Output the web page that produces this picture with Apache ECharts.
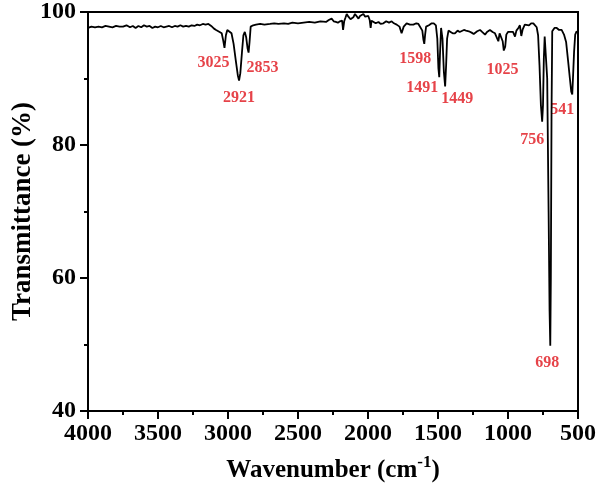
<!DOCTYPE html>
<html>
<head>
<meta charset="UTF-8">
<title>FTIR spectrum</title>
<script src="https://cdn.jsdelivr.net/npm/echarts@6/dist/echarts.min.js"></script>
<style>
  html, body { margin: 0; padding: 0; background: #fff; }
  #chart { width: 605px; height: 498px; }
</style>
</head>
<body>
<div id="chart"></div>
<script>
// spectrum (wavenumber in cm-1, transmittance in %)
const wavenumber = [
  4000, 3975, 3950, 3925, 3900, 3875, 3850, 3825, 3800, 3775, 3750, 3725, 3700, 3680, 3660, 3640,
  3620, 3600, 3580, 3560, 3540, 3520, 3500, 3480, 3460, 3440, 3420, 3400, 3380, 3360, 3340, 3320,
  3300, 3280, 3260, 3240, 3220, 3200, 3180, 3160, 3140, 3120, 3100, 3085, 3075, 3060, 3045, 3035,
  3025, 3015, 3005, 2995, 2975, 2960, 2945, 2930, 2921, 2912, 2900, 2890, 2880, 2870, 2860, 2853,
  2846, 2838, 2820, 2800, 2770, 2740, 2700, 2670, 2640, 2600, 2570, 2540, 2500, 2460, 2420, 2380,
  2340, 2300, 2280, 2260, 2245, 2230, 2215, 2200, 2185, 2178, 2170, 2160, 2152, 2140, 2125, 2116,
  2105, 2093, 2080, 2068, 2057, 2045, 2033, 2020, 2010, 1998, 1988, 1981, 1975, 1962, 1945, 1925,
  1910, 1890, 1870, 1850, 1831, 1815, 1795, 1775, 1760, 1745, 1724, 1700, 1676, 1655, 1640, 1630,
  1612, 1604, 1598, 1592, 1585, 1565, 1545, 1530, 1515, 1505, 1497, 1491, 1486, 1478, 1468, 1458,
  1449, 1442, 1435, 1425, 1410, 1395, 1379, 1360, 1345, 1331, 1315, 1300, 1280, 1260, 1245, 1236,
  1220, 1200, 1185, 1164, 1150, 1129, 1110, 1093, 1080, 1069, 1060, 1048, 1038, 1030, 1025, 1020,
  1012, 1000, 985, 964, 950, 940, 926, 915, 905, 895, 880, 867, 850, 835, 819, 805,
  795, 785, 775, 765, 756, 750, 744, 738, 730, 720, 710, 703, 698, 694, 689, 684,
  668, 652, 635, 617, 600, 585, 570, 558, 548, 541, 535, 528, 520, 510, 500
];
const transmittance = [
  97.6, 97.8, 97.7, 97.8, 97.7, 97.9, 97.8, 97.7, 97.9, 97.8, 97.8, 98.0, 97.7, 97.9, 97.6, 97.9,
  97.7, 98.0, 97.8, 97.9, 97.6, 97.8, 97.7, 97.9, 97.7, 97.8, 97.9, 97.7, 97.9, 97.8, 98.0, 97.8,
  97.9, 97.8, 98.0, 97.9, 98.1, 98.0, 98.2, 98.1, 98.2, 97.9, 97.5, 97.3, 97.6, 97.0, 96.8, 95.8,
  94.6, 96.5, 97.3, 97.5, 96.8, 95.2, 92.8, 90.5, 89.7, 90.8, 94.0, 96.5, 97.0, 96.2, 94.5, 93.9,
  95.5, 97.8, 98.0, 98.1, 98.2, 98.1, 98.2, 98.3, 98.2, 98.3, 98.2, 98.4, 98.3, 98.4, 98.5, 98.4,
  98.6, 98.5, 98.8, 99.0, 98.6, 98.5, 98.4, 98.6, 98.7, 97.3, 98.6, 99.2, 99.7, 99.3, 98.9, 98.7,
  99.2, 99.7, 99.4, 99.0, 99.4, 99.6, 99.7, 99.3, 99.5, 99.4, 98.8, 97.6, 98.7, 98.6, 98.3, 98.5,
  98.2, 98.3, 98.6, 98.4, 98.6, 98.3, 98.1, 97.8, 96.8, 97.8, 98.3, 98.1, 98.1, 98.3, 98.2, 98.2,
  97.2, 95.8, 95.2, 96.6, 97.8, 98.0, 98.3, 98.3, 98.0, 96.0, 91.5, 90.2, 93.5, 97.6, 96.0, 91.0,
  88.8, 92.0, 96.0, 97.2, 97.0, 96.8, 96.8, 97.2, 97.0, 97.1, 97.3, 97.2, 97.1, 96.9, 96.7, 96.8,
  97.1, 97.3, 97.0, 96.6, 97.0, 97.3, 97.0, 96.8, 96.6, 95.6, 96.8, 96.6, 95.6, 94.2, 93.9, 94.8,
  96.6, 97.0, 97.0, 97.0, 96.3, 97.2, 97.6, 98.0, 96.4, 97.4, 98.1, 98.1, 98.0, 98.3, 98.3, 98.0,
  97.7, 96.5, 92.0, 86.0, 83.5, 86.0, 93.0, 96.3, 96.0, 90.0, 70.0, 55.0, 49.8, 60.0, 85.0, 97.1,
  97.6, 97.6, 97.3, 97.3, 96.6, 95.5, 92.5, 90.0, 88.0, 87.6, 90.5, 94.0, 96.6, 97.1, 96.9
];

// labelled bands
const peakWn = [3025, 2921, 2853, 1598, 1491, 1449, 1025, 756, 698, 541];
const peakT = [94.6, 89.7, 93.9, 95.2, 90.2, 88.8, 93.9, 83.5, 49.8, 87.6];
const peakText = ['3025', '2921', '2853', '1598', '1491', '1449', '1025', '756', '698', '541'];
// where each label sits relative to its band tip (px)
const peakOffset = [[-11, 15], [0, 17], [14, 15], [-9, 15], [-17, 11], [12, 12], [-2, 17], [-10, 18], [-3, 17], [-10, 15]];

const xTicks = [4000, 3500, 3000, 2500, 2000, 1500, 1000, 500];
const yTicks = [40, 60, 80, 100];

const serif = '"Liberation Serif", "Times New Roman", serif';
const chart = echarts.init(document.getElementById('chart'));

chart.setOption({
  animation: false,
  grid: {
    left: 88, right: 27, top: 12, bottom: 87,
    outerBoundsMode: 'none',
    containLabel: false,
    show: true, borderColor: '#000', borderWidth: 2
  },
  xAxis: {
    type: 'value',
    inverse: true,
    min: xTicks[xTicks.length - 1],
    max: xTicks[0],
    interval: 500,
    name: '{t|Wavenumber (cm}{s|-1}{t|)}',
    nameLocation: 'middle',
    nameGap: 43,
    nameMoveOverlap: false,
    nameTextStyle: {
      rich: {
        t: { fontFamily: serif, fontWeight: 'bold', fontSize: 25, color: '#000' },
        s: { fontFamily: serif, fontWeight: 'bold', fontSize: 17, color: '#000', padding: [0, 0, 16, 0] }
      }
    },
    axisLine: { lineStyle: { color: '#000', width: 2 } },
    axisTick: { length: 8, lineStyle: { width: 2 } },
    minorTick: { show: true, splitNumber: 2, length: 4, lineStyle: { color: '#000', width: 2 } },
    splitLine: { show: false },
    axisLabel: {
      color: '#000', fontFamily: serif, fontWeight: 'bold', fontSize: 24, margin: 11,
      formatter: v => String(v)
    }
  },
  yAxis: {
    type: 'value',
    min: yTicks[0],
    max: yTicks[yTicks.length - 1],
    interval: 20,
    name: 'Transmittance (%)',
    nameLocation: 'middle',
    nameGap: 51,
    nameMoveOverlap: false,
    nameTextStyle: { fontFamily: serif, fontWeight: 'bold', fontSize: 27, color: '#000' },
    axisLine: { show: true, lineStyle: { color: '#000', width: 2 } },
    axisTick: { show: true, length: 8, lineStyle: { width: 2 } },
    minorTick: { show: true, splitNumber: 2, length: 4, lineStyle: { color: '#000', width: 2 } },
    splitLine: { show: false },
    axisLabel: { color: '#000', fontFamily: serif, fontWeight: 'bold', fontSize: 24, margin: 12 }
  },
  series: [
    {
      type: 'line',
      data: wavenumber.map((w, i) => [w, transmittance[i]]),
      showSymbol: false,
      lineStyle: { color: '#000', width: 1.8 }
    },
    {
      type: 'scatter',
      symbolSize: 0,
      data: peakWn.map((w, i) => ({
        value: [w, peakT[i]],
        label: { offset: peakOffset[i] }
      })),
      label: {
        show: true,
        position: 'inside',
        formatter: p => peakText[p.dataIndex],
        color: '#e0141c',
        fontFamily: serif,
        fontWeight: 'bold',
        fontSize: 16
      }
    }
  ]
});
</script>
</body>
</html>
